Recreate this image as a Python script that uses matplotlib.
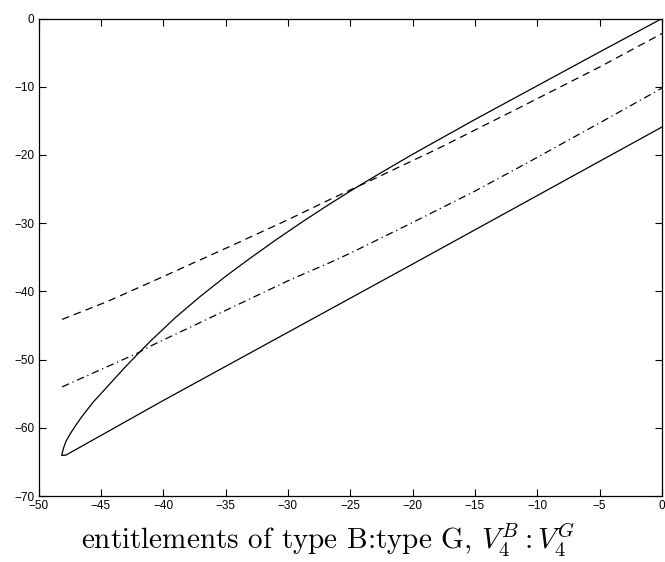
import matplotlib
matplotlib.use('Agg')
import matplotlib.pyplot as plt

# solid loop: upper (curved) branch and lower (straight) branch
upper_x = [-48.14, -48.0, -47.8, -47.5, -47.0, -46.5, -45.6, -44.0, -43.0, -42.0, -41.0,
           -39.0, -37.0, -35.0, -33.0, -31.0, -29.0, -27.0, -25.0, -23.0, -20.0,
           -15.0, -10.0, -5.0, 0.0]
upper_y = [-64.05, -63.0, -62.0, -61.0, -59.6, -58.3, -56.2, -53.0, -51.0, -49.1, -47.25,
           -43.8, -40.7, -37.8, -35.1, -32.5, -30.0, -27.6, -25.3, -23.1, -19.9,
           -14.8, -9.85, -4.9, 0.0]
lower_x = [-48.14, -47.8, -40.0, -30.0, -20.0, -10.0, 0.0]
lower_y = [-64.05, -64.0, -56.0, -46.0, -36.0, -25.95, -15.9]

# dashed curve
dash_x = [-48.1, -44.5, -41.06, -35.0, -30.0, -26.6, -23.2, -18.0, -11.25, -5.0, 0.0]
dash_y = [-44.1, -41.5, -38.7, -33.7, -29.5, -26.5, -23.6, -19.1, -12.9, -7.1, -2.2]

# dash-dot curve
dd_x = [-48.1, -42.0, -41.06, -35.0, -30.0, -26.6, -25.0, -20.0, -15.0, -10.85, -5.0, 0.0]
dd_y = [-54.0, -49.0, -48.05, -42.8, -38.45, -35.75, -34.4, -29.9, -25.3, -21.2, -15.3, -10.2]

xticks = list(range(-50, 1, 5))
yticks = list(range(-70, 1, 10))

plt.rcParams['font.family'] = ['Liberation Sans', 'DejaVu Sans']
plt.rcParams['mathtext.fontset'] = 'cm'

fig = plt.figure(figsize=(6.65, 5.62), dpi=100)
ax = fig.add_axes([0.0579, 0.1174, 0.9376, 0.8496])

loop_x = upper_x[::-1] + lower_x
loop_y = upper_y[::-1] + lower_y
ax.plot(loop_x, loop_y, color='black', lw=0.9)
ax.plot(dash_x, dash_y, color='black', lw=0.9, dashes=(6, 4))
ax.plot(dd_x, dd_y, color='black', lw=0.9, dashes=(6, 3, 1, 3))

ax.set_xlim(-50, 0)
ax.set_ylim(-70, 0)
ax.set_xticks(xticks)
ax.set_yticks(yticks)
ax.set_xticklabels(['\u2212%d' % -t if t < 0 else '0' for t in xticks])
ax.set_yticklabels(['\u2212%d' % -t if t < 0 else '0' for t in yticks])
ax.tick_params(direction='in', top=True, right=True, length=5, width=0.8,
               labelsize=8.5, pad=3)
for s in ax.spines.values():
    s.set_linewidth(0.9)

fig.text(0.494, 0.006, r'entitlements of type B:type G, $V_4^B : V_4^G$',
         family='cmr10', fontsize=21, ha='center', va='bottom')

fig.savefig('out.png', dpi=100)
